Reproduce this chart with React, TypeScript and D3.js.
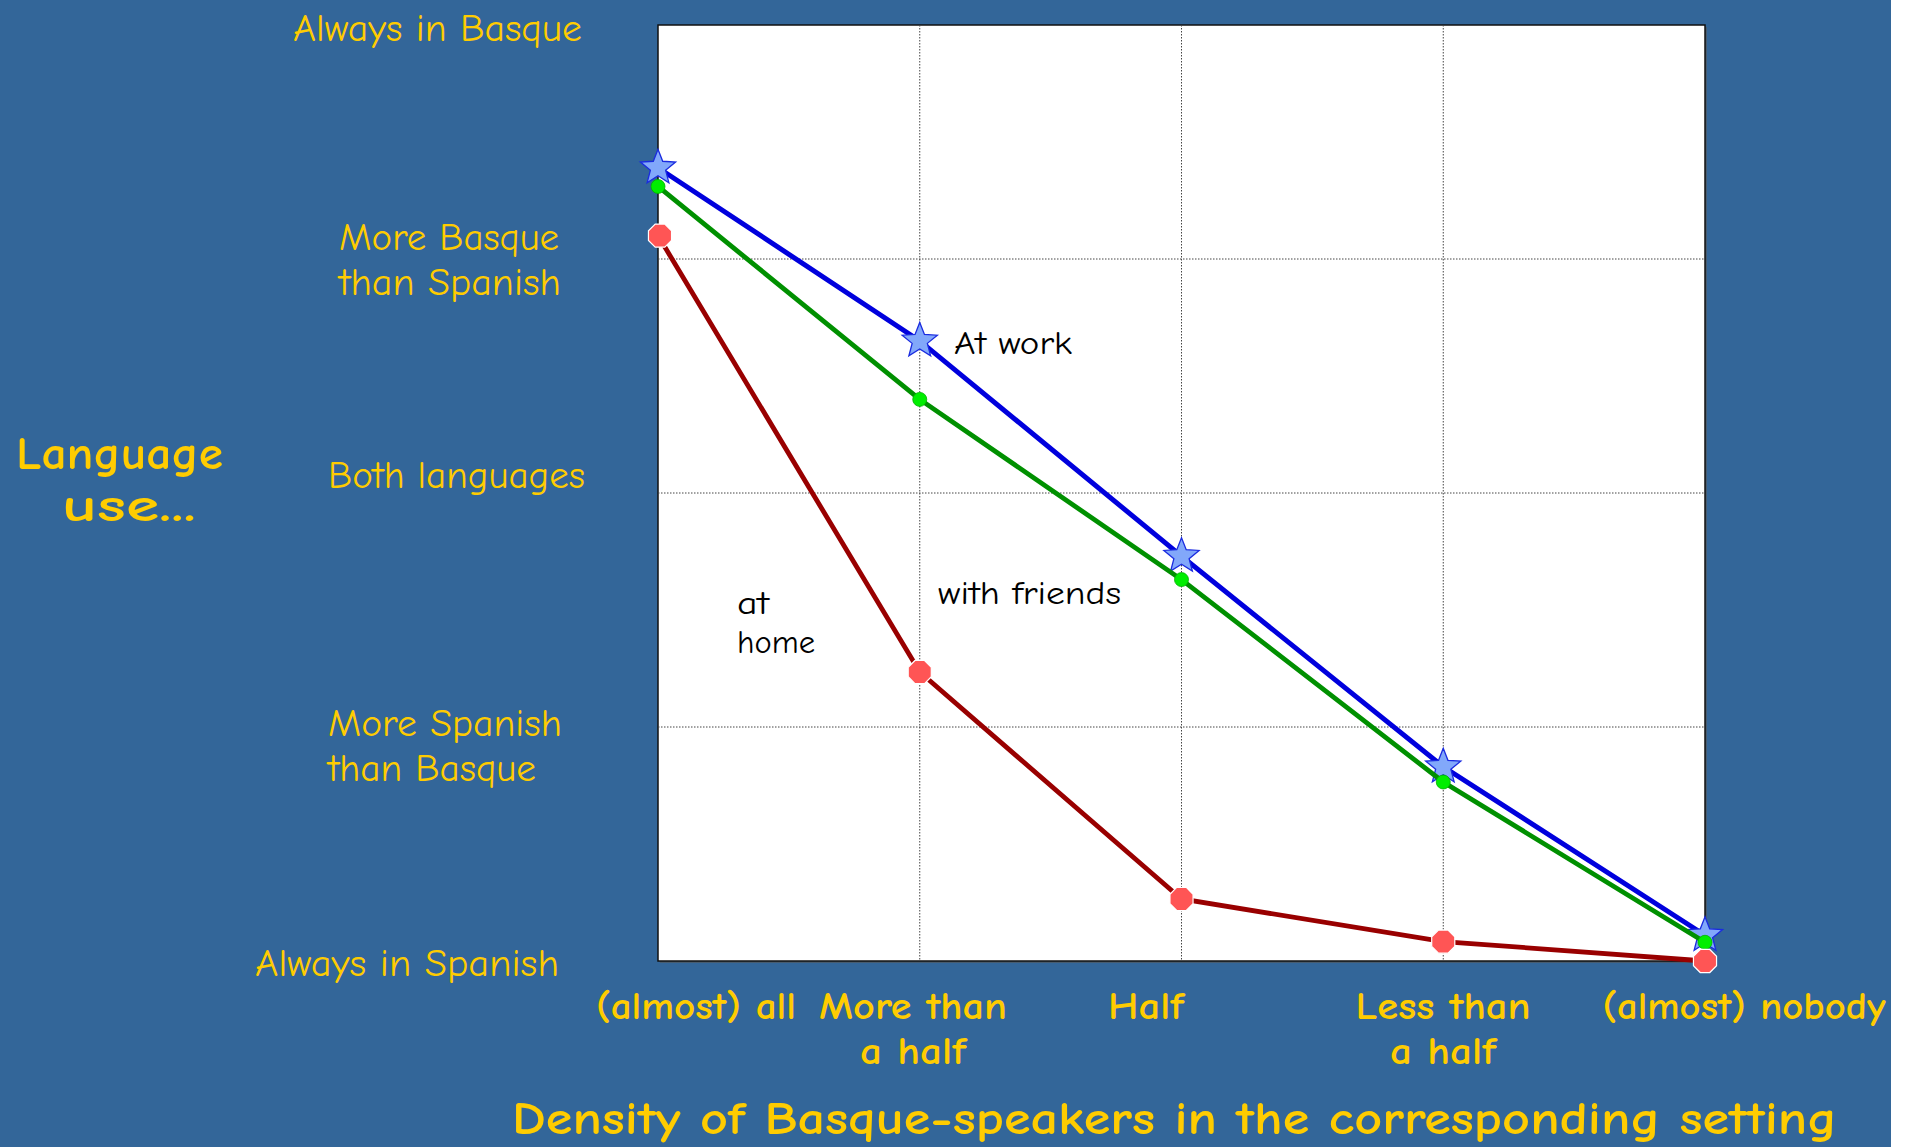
import React from "react";
import * as d3 from "d3";

// ---------- data ----------
const categories = ["(almost) all", "More than a half", "Half", "Less than a half", "(almost) nobody"];
const levels = ["Always in Spanish", "More Spanish than Basque", "Both languages", "More Basque than Spanish", "Always in Basque"];
const atWork = [3.39, 2.65, 1.73, 0.83, 0.11];
const withFriends = [3.31, 2.4, 1.63, 0.765, 0.08];
const atHome = [3.1, 1.235, 0.265, 0.083, 0.0];
const xTitle = "Density of Basque-speakers in the corresponding setting";
const yTitle = ["Language", "use..."];

// ---------- layout ----------
const W = 1910, H = 1147;
const plot = { left: 658, right: 1705, top: 25, bottom: 961 };
const FONT = "'Comic Sans MS', 'Comic Neue', 'Open Sans', sans-serif";
const YELLOW = "#FFCC00";

// y-label text boxes: lines, left x, baselines, target widths
const yLabelLayout = [
  { lines: ["Always in Spanish"], x: 255, y: [976], w: [304] },
  { lines: ["More Spanish", "than Basque"], x: 328, y: [736, 781], w: [234, 208] },
  { lines: ["Both languages"], x: 328, y: [488], w: [257] },
  { lines: ["More Basque", "than Spanish"], x: 339, y: [250, 295], w: [220, 222] },
  { lines: ["Always in Basque"], x: 293, y: [41], w: [289] },
];
// x-label text boxes: lines, center x, baselines, widths
const xLabelLayout = [
  { lines: ["(almost) all"], cx: 696, y: [1019], w: [200] },
  { lines: ["More than", "a half"], cx: 913, y: [1019, 1064], w: [188, 106] },
  { lines: ["Half"], cx: 1146, y: [1019], w: [76] },
  { lines: ["Less than", "a half"], cx: 1443, y: [1019, 1064], w: [175, 106] },
  { lines: ["(almost) nobody"], cx: 1744, y: [1019], w: [283] },
];

function starPath(r1: number, r2: number) {
  const pts = d3.range(10).map((i) => {
    const a = (Math.PI / 5) * i - Math.PI / 2;
    const r = i % 2 === 0 ? r1 : r2;
    return [Math.cos(a) * r, Math.sin(a) * r] as [number, number];
  });
  return "M" + pts.map((p) => p.join(",")).join("L") + "Z";
}
function polyPath(r: number, n: number) {
  const pts = d3.range(n).map((i) => {
    const a = ((2 * Math.PI) / n) * i + Math.PI / n;
    return [Math.cos(a) * r, Math.sin(a) * r] as [number, number];
  });
  return "M" + pts.map((p) => p.join(",")).join("L") + "Z";
}

export default function App() {
  const x = d3.scalePoint<string>().domain(categories).range([plot.left, plot.right]);
  const y = d3.scaleLinear().domain([0, levels.length - 1]).range([plot.bottom, plot.top]);
  const line = d3
    .line<number>()
    .x((_, i) => x(categories[i]) as number)
    .y((d) => y(d));

  const gridY = d3.range(1, levels.length - 1);
  const gridX = categories.slice(1, -1);

  const star = starPath(18.5, 8);
  const oct = polyPath(12.5, 8);

  return (
    <svg
      width={W}
      height={H}
      style={{ position: "absolute", left: 0, top: 0, display: "block" }}
      fontFamily={FONT}
    >
      <rect x={0} y={0} width={W} height={H} fill="#ffffff" />
      <rect x={0} y={0} width={1891} height={H} fill="#336699" />
      {/* plot area */}
      <rect
        x={plot.left + 2}
        y={plot.top + 2}
        width={plot.right - plot.left}
        height={plot.bottom - plot.top}
        fill="#555"
        opacity={0.6}
      />
      <rect
        x={plot.left}
        y={plot.top}
        width={plot.right - plot.left}
        height={plot.bottom - plot.top}
        fill="#ffffff"
        stroke="#111"
        strokeWidth={1.5}
      />
      {gridY.map((v) => (
        <line
          key={"gy" + v}
          x1={plot.left}
          x2={plot.right}
          y1={y(v)}
          y2={y(v)}
          stroke="#444"
          strokeWidth={1}
          strokeDasharray="1.5,1.5"
        />
      ))}
      {gridX.map((c) => (
        <line
          key={"gx" + c}
          x1={x(c)}
          x2={x(c)}
          y1={plot.top}
          y2={plot.bottom}
          stroke="#444"
          strokeWidth={1}
          strokeDasharray="1.5,1.5"
        />
      ))}

      {/* at work */}
      <path d={line(atWork) || ""} fill="none" stroke="#0000DD" strokeWidth={5} />
      {atWork.map((v, i) => (
        <path
          key={"s" + i}
          d={star}
          transform={`translate(${x(categories[i])},${y(v)})`}
          fill="#82A8FA"
          stroke="#1A2BE0"
          strokeWidth={1.3}
        />
      ))}
      {/* with friends */}
      <path d={line(withFriends) || ""} fill="none" stroke="#009000" strokeWidth={4.8} />
      {withFriends.map((v, i) => (
        <circle key={"g" + i} cx={x(categories[i])} cy={y(v)} r={7} fill="#00EE00" stroke="#00B000" strokeWidth={0.8} />
      ))}
      {/* at home */}
      <path d={line(atHome) || ""} fill="none" stroke="#990000" strokeWidth={4.8} />
      {atHome.map((v, i) => (
        <path
          key={"r" + i}
          d={oct}
          transform={`translate(${(x(categories[i]) as number) + (i === 0 ? 2 : 0)},${y(v)})`}
          fill="#FF5555"
          stroke="#ffffff"
          strokeWidth={1.2}
        />
      ))}

      {/* annotations */}
      <g fill="#000" fontSize={32}>
        <text x={954} y={354} textLength={118} lengthAdjust="spacingAndGlyphs">At work</text>
        <text x={938} y={604} textLength={183} lengthAdjust="spacingAndGlyphs">with friends</text>
        <text x={737} y={614} textLength={32} lengthAdjust="spacingAndGlyphs">at</text>
        <text x={737} y={653} textLength={78} lengthAdjust="spacingAndGlyphs">home</text>
      </g>

      {/* y level labels */}
      <g fill={YELLOW} fontSize={38}>
        {yLabelLayout.map((l, i) =>
          l.lines.map((t, j) => (
            <text key={"yl" + i + j} x={l.x} y={l.y[j]} textLength={l.w[j]} lengthAdjust="spacingAndGlyphs">
              {t}
            </text>
          ))
        )}
      </g>
      {/* x category labels */}
      <g fill={YELLOW} fontSize={38} fontWeight="bold">
        {xLabelLayout.map((l, i) =>
          l.lines.map((t, j) => (
            <text
              key={"xl" + i + j}
              x={l.cx - l.w[j] / 2}
              y={l.y[j]}
              textLength={l.w[j]}
              lengthAdjust="spacingAndGlyphs"
            >
              {t}
            </text>
          ))
        )}
      </g>
      {/* axis titles */}
      <text x={512} y={1134} fill={YELLOW} fontSize={47} fontWeight="bold" textLength={1325} lengthAdjust="spacingAndGlyphs">
        {xTitle}
      </text>
      <g fill={YELLOW} fontSize={47} fontWeight="bold">
        <text x={16} y={469} textLength={207} lengthAdjust="spacingAndGlyphs">{yTitle[0]}</text>
        <text x={62} y={521} textLength={134} lengthAdjust="spacingAndGlyphs">{yTitle[1]}</text>
      </g>
    </svg>
  );
}
